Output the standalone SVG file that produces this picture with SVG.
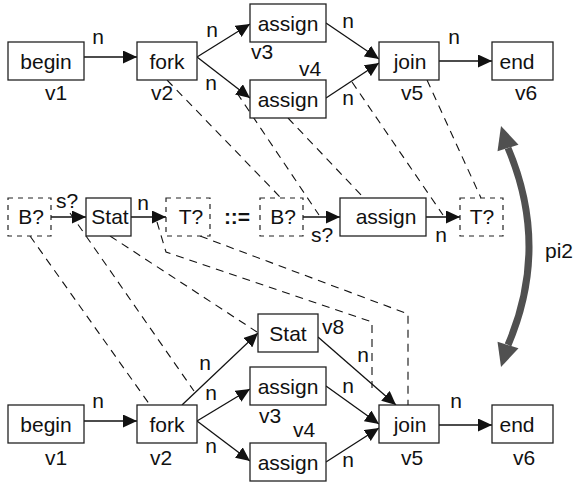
<svg xmlns="http://www.w3.org/2000/svg" width="573" height="482" viewBox="0 0 573 482">
  <style>
    .box { fill: #fff; stroke: #222; stroke-width: 1.3; }
    .dbox { fill: #fff; stroke: #222; stroke-width: 1.2; stroke-dasharray: 5 5; }
    .t { font-family: "Liberation Sans", Arial, sans-serif; font-size: 21px; fill: #111; text-anchor: middle; }
    .op { font-family: "Liberation Sans", Arial, sans-serif; font-size: 21px; font-weight: bold; fill: #111; text-anchor: middle; }
    .edge { fill: none; stroke: #111; stroke-width: 1.3; marker-end: url(#ah); }
    .map { fill: none; stroke: #111; stroke-width: 1.1; stroke-dasharray: 8 6; }
  </style>
  <defs>
    <marker id="ah" markerUnits="userSpaceOnUse" markerWidth="14" markerHeight="13" refX="14" refY="6.5" orient="auto">
      <path d="M0,0 L14,6.5 L0,13 z" fill="#111"/>
    </marker>
  </defs>
  <rect width="573" height="482" fill="#fff"/>

  <!-- correspondence lines -->
  <g id="mappings">
    <path class="map" d="M167,80 L281,198"/>
    <path class="map" d="M237,93 L319,215"/>
    <path class="map" d="M288,118 L364,198"/>
    <path class="map" d="M352,82 L443,215"/>
    <path class="map" d="M427,80 L481,198"/>
    <path class="map" d="M30,236 L150,405"/>
    <path class="map" d="M70,213 L194,391"/>
    <path class="map" d="M110,236 L257,332"/>
    <path class="map" d="M157,222 L166,252 L372,322 L372,388"/>
    <path class="map" d="M200,236 L408,314 L408,405"/>
  </g>

  <!-- graph edges -->
  <g id="connectors">
    <path class="edge" d="M84,57 L137,57"/>
    <path class="edge" d="M197,57 L250,24"/>
    <path class="edge" d="M197,57 L250,98"/>
    <path class="edge" d="M326,23 L379,59"/>
    <path class="edge" d="M326,98 L379,63"/>
    <path class="edge" d="M439,61 L492,61"/>

    <path class="edge" d="M51,217 L86,217"/>
    <path class="edge" d="M131,217 L166,217"/>
    <path class="edge" d="M303,217 L340,217"/>
    <path class="edge" d="M426,217 L460,217"/>

    <path class="edge" d="M84,421 L137,421"/>
    <path class="edge" d="M182,405 L258,333"/>
    <path class="edge" d="M197,421 L250,389"/>
    <path class="edge" d="M197,421 L250,461"/>
    <path class="edge" d="M318,337 L396,405"/>
    <path class="edge" d="M326,386 L379,424"/>
    <path class="edge" d="M326,462 L379,428"/>
    <path class="edge" d="M439,425 L492,425"/>
  </g>

  <!-- edge labels -->
  <g id="edge-labels" class="t">
    <text x="98" y="44">n</text>
    <text x="212" y="37">n</text>
    <text x="211" y="90">n</text>
    <text x="348" y="28">n</text>
    <text x="348" y="105">n</text>
    <text x="454" y="44">n</text>

    <text x="67" y="208">s?</text>
    <text x="143" y="210">n</text>
    <text x="322" y="242">s?</text>
    <text x="441" y="242">n</text>

    <text x="98" y="408">n</text>
    <text x="205" y="370">n</text>
    <text x="211" y="400">n</text>
    <text x="211" y="453">n</text>
    <text x="363" y="362">n</text>
    <text x="348" y="393">n</text>
    <text x="348" y="467">n</text>
    <text x="456" y="408">n</text>
  </g>

  <!-- upper graph -->
  <g id="top-begin"><rect class="box" x="8" y="42" width="76" height="38"/><text class="t" x="46" y="69">begin</text><text class="t" x="56" y="100">v1</text></g>
  <g id="top-fork"><rect class="box" x="137" y="42" width="60" height="38"/><text class="t" x="167" y="69">fork</text><text class="t" x="162" y="100">v2</text></g>
  <g id="top-v3"><rect class="box" x="250" y="4" width="76" height="38"/><text class="t" x="288" y="31">assign</text><text class="t" x="262" y="59">v3</text></g>
  <g id="top-v4"><rect class="box" x="250" y="80" width="76" height="38"/><text class="t" x="288" y="107">assign</text><text class="t" x="310" y="76">v4</text></g>
  <g id="top-join"><rect class="box" x="379" y="42" width="60" height="38"/><text class="t" x="410" y="69">join</text><text class="t" x="412" y="100">v5</text></g>
  <g id="top-end"><rect class="box" x="492" y="42" width="61" height="38"/><text class="t" x="517" y="69">end</text><text class="t" x="526" y="100">v6</text></g>

  <!-- rule pattern -->
  <g id="pat-b1"><rect class="dbox" x="8" y="198" width="43" height="38"/><text class="t" x="31" y="224">B?</text></g>
  <g id="pat-stat"><rect class="box" x="86" y="198" width="45" height="38"/><text class="t" x="110" y="224">Stat</text></g>
  <g id="pat-t1"><rect class="dbox" x="166" y="198" width="44" height="38"/><text class="t" x="191" y="224">T?</text></g>
  <text class="op" x="237" y="224">::=</text>
  <g id="pat-b2"><rect class="dbox" x="260" y="198" width="43" height="38"/><text class="t" x="283" y="224">B?</text></g>
  <g id="pat-assign"><rect class="box" x="340" y="198" width="86" height="38"/><text class="t" x="386" y="224">assign</text></g>
  <g id="pat-t2"><rect class="dbox" x="460" y="198" width="43" height="38"/><text class="t" x="482" y="224">T?</text></g>

  <!-- pi2 transformation arrow -->
  <g id="pi2">
    <path d="M508,148 Q550,247 508,345" fill="none" stroke="#505050" stroke-width="7"/>
    <polygon points="501,126 518.5,144.7 497.5,151.3" fill="#505050"/>
    <polygon points="501,367 518.5,348.3 497.5,341.7" fill="#505050"/>
    <text class="t" x="545" y="258" style="text-anchor:start">pi2</text>
  </g>

  <!-- lower graph -->
  <g id="bot-begin"><rect class="box" x="8" y="405" width="76" height="38"/><text class="t" x="46" y="432">begin</text><text class="t" x="56" y="465">v1</text></g>
  <g id="bot-fork"><rect class="box" x="137" y="405" width="60" height="38"/><text class="t" x="167" y="432">fork</text><text class="t" x="161" y="465">v2</text></g>
  <g id="bot-v8"><rect class="box" x="258" y="314" width="60" height="38"/><text class="t" x="288" y="341">Stat</text><text class="t" x="333" y="334">v8</text></g>
  <g id="bot-v3"><rect class="box" x="250" y="367" width="76" height="38"/><text class="t" x="288" y="394">assign</text><text class="t" x="270" y="423">v3</text></g>
  <g id="bot-v4"><rect class="box" x="250" y="443" width="76" height="38"/><text class="t" x="288" y="470">assign</text><text class="t" x="304" y="437">v4</text></g>
  <g id="bot-join"><rect class="box" x="379" y="405" width="60" height="38"/><text class="t" x="410" y="432">join</text><text class="t" x="412" y="465">v5</text></g>
  <g id="bot-end"><rect class="box" x="492" y="405" width="61" height="38"/><text class="t" x="517" y="432">end</text><text class="t" x="524" y="465">v6</text></g>
</svg>
